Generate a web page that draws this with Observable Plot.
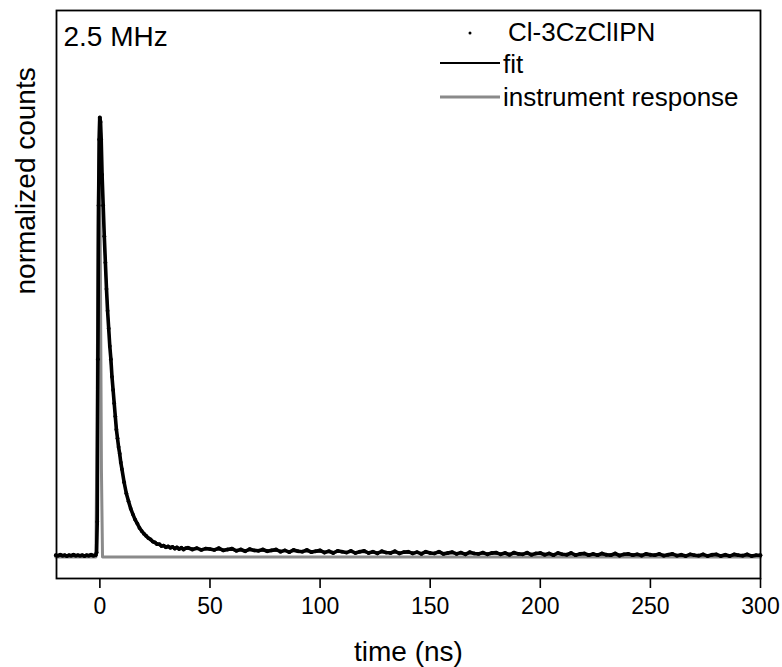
<!DOCTYPE html>
<html><head><meta charset="utf-8">
<script src="https://cdn.jsdelivr.net/npm/d3@7"></script>
<script src="https://cdn.jsdelivr.net/npm/@observablehq/plot@0.6"></script>
<style>body{margin:0;background:#fff}</style>
</head><body><div id="chart"></div>
<script>
// ---- labels ----
const xTicks = [0, 50, 100, 150, 200, 250, 300];
const xTitle = "time (ns)";
const yTitle = "normalized counts";
const rateLabel = "2.5 MHz";
const legendLabels = ["Cl-3CzClIPN", "fit", "instrument response"];

// ---- measured decay (Cl-3CzClIPN) ----
const dataTimeNs = [
  -20,-19,-18,-17,-16,-15,-14,-13,-12,-11,-10,-9,-8,-7,-6,-5,-4,-3,-2,-1.5,
  -1.2,-0.9,-0.6,-0.3,0,0.3,0.6,1,1.5,2,2.5,3,3.5,4,4.5,5,5.5,6,6.5,7,7.5,8,8.5,9,9.5,10,
  11,12,13,14,15,16,17,18,19,20,21,22,23,24,25,26,27,28,29,30,31,32,33,34,35,36,37,38,39,
  40,42,44,46,48,50,52,54,56,58,60,62,64,66,68,70,72,74,76,78,80,82,84,86,88,90,92,94,96,98,
  100,102,104,106,108,110,112,114,116,118,120,122,124,126,128,130,132,134,136,138,140,142,144,146,148,
  150,152,154,156,158,160,162,164,166,168,170,172,174,176,178,180,182,184,186,188,190,192,194,196,198,
  200,202,204,206,208,210,212,214,216,218,220,222,224,226,228,230,232,234,236,238,240,242,244,246,248,
  250,252,254,256,258,260,262,264,266,268,270,272,274,276,278,280,282,284,286,288,290,292,294,296,298,300
];
const dataCounts = [
  0.004,0.003,0.005,0.003,0.004,0.002,0.004,0.003,0.005,0.003,0.004,0.003,0.004,0.002,0.004,0.003,0.005,0.003,0.004,0.01,
  0.08,0.45,0.8,0.95,1.0,0.99,0.95,0.87,0.8,0.73,0.67,0.61,0.56,0.52,0.48,0.45,0.41,0.38,0.35,0.32,0.29,0.27,0.25,0.235,0.215,0.2,
  0.17,0.145,0.127,0.11,0.097,0.085,0.076,0.066,0.059,0.053,0.048,0.043,0.040,0.035,0.033,0.029,0.029,0.025,0.026,0.022,0.024,0.021,0.023,0.019,0.022,0.018,0.021,0.017,0.020,
  0.021,0.017,0.020,0.016,0.019,0.018,0.016,0.020,0.015,0.017,0.019,0.014,0.017,0.013,0.018,0.015,0.014,0.017,0.013,0.015,0.017,0.012,0.015,0.011,0.016,0.013,0.012,0.016,0.011,0.013,
  0.015,0.010,0.013,0.009,0.014,0.012,0.010,0.014,0.009,0.012,0.014,0.009,0.012,0.008,0.013,0.010,0.009,0.013,0.008,0.011,0.012,0.008,0.011,0.007,0.012,
  0.009,0.008,0.012,0.007,0.009,0.011,0.007,0.010,0.006,0.011,0.008,0.007,0.010,0.006,0.009,0.010,0.006,0.009,0.005,0.010,0.007,0.006,0.010,0.005,0.008,
  0.009,0.005,0.008,0.004,0.009,0.006,0.005,0.009,0.004,0.007,0.008,0.004,0.007,0.004,0.008,0.005,0.004,0.008,0.003,0.006,0.007,0.004,0.006,0.003,0.007,
  0.005,0.004,0.007,0.003,0.005,0.007,0.003,0.005,0.002,0.006,0.004,0.003,0.006,0.002,0.005,0.006,0.002,0.005,0.002,0.006,0.004,0.003,0.006,0.002,0.004,0.004
];

// ---- fit ----
const fitTimeNs = [-20,-1.5,-1.0,-0.5,0,0.3,1,2,3,4,5,6,7,8,10,12,14,16,18,20,25,30,40,60,80,100,150,200,250,300];
const fitCounts = [0.0035,0.0035,0.3,0.8,0.98,1.0,0.87,0.73,0.61,0.52,0.44,0.38,0.32,0.27,0.2,0.145,0.11,0.085,0.066,0.053,0.033,0.024,0.019,0.016,0.014,0.012,0.009,0.007,0.005,0.0035];

// ---- instrument response ----
const irfTimeNs = [-20,-1.8,-1.3,-0.8,-0.3,0.2,0.7,1.2,300];
const irfCounts = [0,0,0.3,0.75,1.0,0.7,0.2,0,0];

const data = dataTimeNs.map((t, i) => ({t, v: dataCounts[i]}));
const fit = fitTimeNs.map((t, i) => ({t, v: fitCounts[i]}));
const irf = irfTimeNs.map((t, i) => ({t, v: irfCounts[i]}));

const font = "'Liberation Sans', Arial, Helvetica, sans-serif";
const W = 782, H = 667;

const svg = Plot.plot({
  width: W, height: H,
  marginLeft: 56, marginRight: 22, marginTop: 10, marginBottom: 89,
  style: {fontFamily: font, fontSize: "23px", color: "#000", background: "#fff"},
  x: {domain: [-19.7, 300]},
  y: {domain: [-0.049, 1.2435], axis: null},
  marks: [
    Plot.line(irf, {x: "t", y: "v", stroke: "#8a8a8a", strokeWidth: 3}),
    Plot.line(data, {x: "t", y: "v", stroke: "#000", strokeWidth: 3.6}),
    Plot.dot(data, {x: "t", y: "v", r: 1.9, fill: "#000", stroke: "none"}),
    Plot.line(fit, {x: "t", y: "v", stroke: "#000", strokeWidth: 2, curve: "monotone-x"}),
    Plot.axisX({ticks: xTicks, tickSize: 10, tickPadding: 9, strokeWidth: 1.6, label: null, fontSize: 23}),
    Plot.frame({stroke: "#000", strokeWidth: 1.8}),
    Plot.text([xTitle], {text: d => d, frameAnchor: "bottom", dy: 74, fontSize: 28, lineAnchor: "middle"}),
    Plot.text([yTitle], {text: d => d, frameAnchor: "left", dx: -30, rotate: -90, fontSize: 28, lineAnchor: "middle"}),
    Plot.text([rateLabel], {text: d => d, frameAnchor: "top-left", dx: 7, dy: 16, fontSize: 28, lineAnchor: "top", textAnchor: "start"})
  ]
});

// legend
const g = d3.select(svg).append("g")
  .attr("font-family", font).attr("font-size", 26).attr("fill", "#000").attr("text-anchor", "start");
g.append("circle").attr("cx", 470).attr("cy", 33).attr("r", 1.5).attr("fill", "#000");
g.append("line").attr("x1", 440).attr("x2", 500).attr("y1", 63).attr("y2", 63).attr("stroke", "#000").attr("stroke-width", 2);
g.append("line").attr("x1", 440).attr("x2", 500).attr("y1", 97).attr("y2", 97).attr("stroke", "#8a8a8a").attr("stroke-width", 3);
const legendY = [41, 73, 106];
const legendX = [508, 503, 503];
legendLabels.forEach((s, i) => {
  g.append("text").attr("x", legendX[i]).attr("y", legendY[i]).attr("text-anchor", "start").text(s);
});

document.getElementById("chart").appendChild(svg);
</script>
</body></html>
